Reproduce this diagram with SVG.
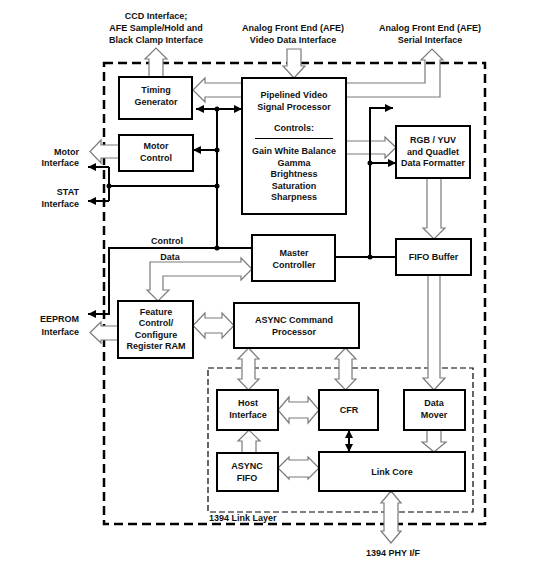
<svg xmlns="http://www.w3.org/2000/svg" width="546" height="561" viewBox="0 0 546 561">
<defs>
<style>
text{font-family:"Liberation Sans",Arial,sans-serif;font-size:9px;font-weight:bold;fill:#111;text-anchor:middle}
.l{text-anchor:end}
.s{text-anchor:start}
.box{fill:#fff;stroke:#000;stroke-width:2}
.ha{fill:#fff;stroke:#7a7a7a;stroke-width:1.2;stroke-linejoin:miter}
.hl{fill:none;stroke:#7a7a7a;stroke-width:1.2}
.w{fill:none;stroke:#000;stroke-width:2}
.dot{fill:#000}
</style>
<marker id="ah" viewBox="0 0 8 8" refX="8" refY="4" markerWidth="8" markerHeight="8" markerUnits="userSpaceOnUse" orient="auto-start-reverse">
<path d="M0,0 L8,4 L0,8 Z" fill="#000"/>
</marker>
</defs>
<rect x="0" y="0" width="546" height="561" fill="#fff"/>

<g id="borders">
<rect x="104" y="63" width="381" height="461" fill="none" stroke="#000" stroke-width="2.5" stroke-dasharray="9 5"/>
<rect x="208" y="368" width="265" height="144" fill="none" stroke="#000" stroke-width="1.2" stroke-dasharray="6 3"/>
<text class="s" x="209" y="520.5">1394 Link Layer</text>
</g>

<g id="labels">
<text x="156" y="19">CCD Interface;</text>
<text x="156" y="31">AFE Sample/Hold and</text>
<text x="156" y="43">Black Clamp Interface</text>
<text x="293" y="31">Analog Front End (AFE)</text>
<text x="293" y="43">Video Data Interface</text>
<text x="430" y="31">Analog Front End (AFE)</text>
<text x="430" y="43">Serial Interface</text>
<text class="l" x="79" y="155">Motor</text>
<text class="l" x="79" y="166">Interface</text>
<text class="l" x="79" y="195">STAT</text>
<text class="l" x="79" y="207">Interface</text>
<text class="l" x="79" y="322">EEPROM</text>
<text class="l" x="79" y="335">Interface</text>
<text x="167" y="244">Control</text>
<text x="170" y="260">Data</text>
<text x="393" y="556">1394 PHY I/F</text>
</g>

<g id="connectors">
<!-- hollow arrows -->
<polygon class="ha" points="149,77 149,59 145,59 156,48 167,59 163,59 163,77"/>
<polygon class="ha" points="287,49 301,49 301,66 305,66 294,78 283,66 287,66"/>
<polyline class="hl" points="346,83 425,83 425,60 421,60 432,49 443,60 440,60 440,97 346,97"/>
<polyline class="ha" points="242,83 205,83 205,78 193,90 205,102 205,97 242,97"/>
<polyline class="ha" points="119,145 101,145 101,140 90,151.5 101,163 101,158 119,158"/>
<polyline class="ha" points="118,326 101,326 101,322 90,332.5 101,343 101,340 118,340"/>
<polyline class="ha" points="346,141 385,141 385,137 396,147.5 385,158 385,154 346,154"/>
<polyline class="ha" points="427,178 427,228 423,228 434,239 445,228 441,228 441,178"/>
<polyline class="ha" points="428,275 428,378 423,378 434,390 445,378 440,378 440,275"/>
<polygon class="ha" points="150,290 150,262 241,262 241,258 252,269 241,280 241,276 163,276 163,290 169,290 158,301 147,290"/>
<polygon class="ha" points="193,325.5 205,313 205,318 222,318 222,313 234,325.5 222,338 222,333 205,333 205,338"/>
<polygon class="ha" points="248.5,348 259,359 255,359 255,379 259,379 248.5,390 238,379 242,379 242,359 238,359"/>
<polygon class="ha" points="345.5,348 356,359 352,359 352,379 356,379 345.5,390 335,379 339,379 339,359 335,359"/>
<polygon class="ha" points="278,410 289,397 289,402 308,402 308,397 319,410 308,423 308,418 289,418 289,423"/>
<polyline class="ha" points="242,453 242,441 238,441 249,430 260,441 256,441 256,453"/>
<polygon class="ha" points="278,468 289,457 289,460 308,460 308,457 319,468 308,479 308,477 289,477 289,479"/>
<polyline class="ha" points="427,430 427,442 422,442 434,452 446,442 441,442 441,430"/>
<polygon class="ha" points="391,491 401,503 398,503 398,531 401,531 391,543 381,531 384,531 384,503 381,503"/>
<!-- black wires -->
<line class="w" x1="196" y1="109" x2="242" y2="109" marker-start="url(#ah)" marker-end="url(#ah)"/>
<polyline class="w" points="217,109 217,248"/>
<line class="w" x1="217" y1="150" x2="193" y2="150" marker-end="url(#ah)"/>
<polyline class="w" points="217,186 109,186"/>
<polyline class="w" points="109,167 109,201"/>
<line class="w" x1="109" y1="167" x2="88" y2="167" marker-end="url(#ah)"/>
<line class="w" x1="109" y1="201" x2="88" y2="201" marker-end="url(#ah)"/>
<polyline class="w" points="252,248 109,248 109,314 88,314" marker-end="url(#ah)"/>
<polyline class="w" points="393,108 370,108 370,257" marker-start="url(#ah)"/>
<line class="w" x1="370" y1="163" x2="396" y2="163" marker-end="url(#ah)"/>
<line class="w" x1="335" y1="257" x2="396" y2="257"/>
<line class="w" x1="349" y1="430" x2="349" y2="452" marker-start="url(#ah)" marker-end="url(#ah)"/>
<circle class="dot" cx="217" cy="109" r="2.5"/>
<circle class="dot" cx="217" cy="150" r="2.5"/>
<circle class="dot" cx="217" cy="186" r="2.5"/>
<circle class="dot" cx="109" cy="186" r="2.5"/>
<circle class="dot" cx="217" cy="248" r="2.5"/>
<circle class="dot" cx="370" cy="163" r="2.5"/>
<circle class="dot" cx="370" cy="257" r="2.5"/>
</g>

<g id="timing">
<rect class="box" x="119" y="77" width="73" height="42"/>
<text x="156" y="92.5">Timing</text>
<text x="156" y="104.5">Generator</text>
</g>
<g id="motor">
<rect class="box" x="119" y="135" width="74" height="36"/>
<text x="156" y="149">Motor</text>
<text x="156" y="161">Control</text>
</g>
<g id="pipelined">
<rect class="box" x="242" y="78" width="104" height="136"/>
<text x="294" y="98">Pipelined Video</text>
<text x="294" y="110">Signal Processor</text>
<text x="294" y="131">Controls:</text>
<line x1="255" y1="138.5" x2="333" y2="138.5" stroke="#000" stroke-width="1"/>
<text x="294" y="154">Gain White Balance</text>
<text x="294" y="165.5">Gamma</text>
<text x="294" y="177">Brightness</text>
<text x="294" y="188.5">Saturation</text>
<text x="294" y="200">Sharpness</text>
</g>
<g id="rgb">
<rect class="box" x="396" y="126" width="74" height="52"/>
<text x="433" y="143">RGB / YUV</text>
<text x="433" y="154.5">and Quadlet</text>
<text x="433" y="166">Data Formatter</text>
</g>
<g id="fifo">
<rect class="box" x="396" y="239" width="75" height="36"/>
<text x="433.5" y="260">FIFO Buffer</text>
</g>
<g id="master">
<rect class="box" x="252" y="235" width="83" height="46"/>
<text x="294" y="255.5">Master</text>
<text x="294" y="267.5">Controller</text>
</g>
<g id="feature">
<rect class="box" x="118" y="301" width="75" height="57"/>
<text x="156" y="314.5">Feature</text>
<text x="156" y="326">Control/</text>
<text x="156" y="337.5">Configure</text>
<text x="156" y="349">Register RAM</text>
</g>
<g id="asynccmd">
<rect class="box" x="234" y="303" width="125" height="45"/>
<text x="294" y="323">ASYNC Command</text>
<text x="294" y="335">Processor</text>
</g>
<g id="host">
<rect class="box" x="217" y="390" width="61" height="40"/>
<text x="248" y="406">Host</text>
<text x="248" y="417.5">Interface</text>
</g>
<g id="cfr">
<rect class="box" x="319" y="390" width="59" height="40"/>
<text x="349" y="413">CFR</text>
</g>
<g id="datamover">
<rect class="box" x="404" y="390" width="61" height="40"/>
<text x="434" y="406">Data</text>
<text x="434" y="417.5">Mover</text>
</g>
<g id="asyncfifo">
<rect class="box" x="217" y="453" width="61" height="38"/>
<text x="247" y="469">ASYNC</text>
<text x="247" y="481">FIFO</text>
</g>
<g id="linkcore">
<rect class="box" x="319" y="452" width="146" height="39"/>
<text x="392" y="474.5">Link Core</text>
</g>
</svg>
